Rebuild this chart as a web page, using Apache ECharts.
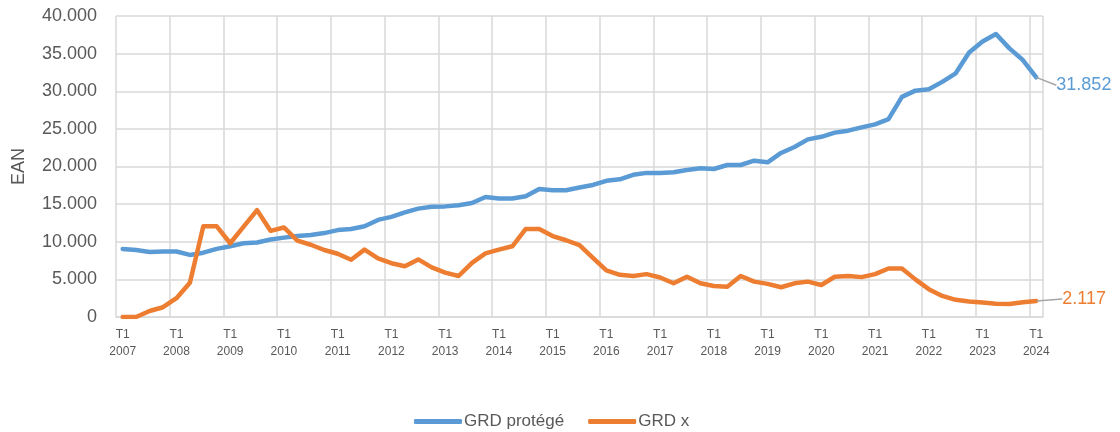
<!DOCTYPE html>
<html>
<head>
<meta charset="utf-8">
<title>GRD</title>
<script src="https://cdn.jsdelivr.net/npm/echarts@6/dist/echarts.min.js"></script>
<style>
  html, body { margin: 0; padding: 0; background: #fff; }
  #chart { width: 1120px; height: 432px; }
</style>
</head>
<body>
<div id="chart"></div>
<script>
// trimestres T1 2007 .. T1 2024
var years = [2007, 2008, 2009, 2010, 2011, 2012, 2013, 2014, 2015, 2016, 2017, 2018, 2019, 2020, 2021, 2022, 2023, 2024];
var quarters = ['T1', 'T2', 'T3', 'T4'];

var grdProtege = [
  9050, 8900, 8650, 8700,
  8700, 8250, 8550, 9050,
  9400, 9800, 9900, 10300,
  10550, 10750, 10900, 11150,
  11550, 11700, 12050, 12900,
  13300, 13900, 14400, 14650,
  14700, 14850, 15150, 15950,
  15750, 15750, 16050, 17000,
  16850, 16850, 17200, 17550,
  18100, 18300, 18900, 19150,
  19150, 19230, 19540, 19760,
  19670, 20200, 20200, 20770,
  20560, 21800, 22600, 23600,
  23950, 24500, 24760, 25200,
  25600, 26300, 29250, 30080,
  30260, 31250, 32380, 35150,
  36600, 37600, 35700, 34150,
  31852
];

var grdX = [
  0, 0, 800, 1300,
  2500, 4550, 12050, 12050,
  9800, 12000, 14200, 11450,
  11900, 10150, 9600, 8900,
  8400, 7600, 8950, 7800,
  7150, 6750, 7650, 6600,
  5900, 5450, 7200, 8450,
  8950, 9400, 11700, 11700,
  10750, 10200, 9550, 7850,
  6200, 5600, 5450, 5700,
  5250, 4480, 5360, 4480,
  4120, 4030, 5450, 4700,
  4400, 3950, 4480, 4700,
  4250, 5350, 5450, 5300,
  5700, 6450, 6450, 5000,
  3700, 2800, 2280, 2050,
  1920, 1760, 1740, 1950,
  2117
];

var yTicks = [0, 5000, 10000, 15000, 20000, 25000, 30000, 35000, 40000];

var categories = [];
for (var y = 0; y < years.length; y++) {
  for (var q = 0; q < quarters.length; q++) {
    if (years[y] === 2024 && q > 0) break;
    categories.push(quarters[q] + ' ' + years[y]);
  }
}

var FONT = '"Liberation Sans", Arial, sans-serif';
var GRID_COL = '#d9d9d9';
var TXT = '#595959';

function fmt(v) {
  return String(v).replace(/\B(?=(\d{3})+(?!\d))/g, '.');
}

// seul le dernier point porte une étiquette
function withEndLabel(values, color) {
  return values.map(function (v, i) {
    if (i !== values.length - 1) return v;
    return {
      value: v,
      label: {
        show: true,
        position: 'right',
        distance: 5,
        color: color,
        fontFamily: FONT,
        fontSize: 18,
        formatter: function (p) { return fmt(p.value); }
      }
    };
  });
}

function lineSeries(name, values, color, dx, dy) {
  return {
    name: name,
    type: 'line',
    data: withEndLabel(values, color),
    color: color,
    showSymbol: true,
    showAllSymbol: true,
    symbolSize: 0.1,
    lineStyle: { width: 4.5, color: color, join: 'round', cap: 'round' },
    labelLayout: { dx: dx, dy: dy },
    labelLine: { show: true, lineStyle: { color: '#a6a6a6', width: 1.5 } },
    emphasis: { disabled: true }
  };
}

var chart = echarts.init(document.getElementById('chart'));
var option = {
  animation: false,
  backgroundColor: '#fff',
  grid: { left: 116, right: 77, top: 16, bottom: 115 },
  legend: {
    top: 408,
    left: 409,
    icon: 'roundRect',
    itemWidth: 48,
    itemHeight: 5,
    itemGap: 24,
    textStyle: { color: TXT, fontFamily: FONT, fontSize: 17, padding: [0, 0, 0, -3] },
    data: ['GRD protégé', 'GRD x']
  },
  xAxis: {
    type: 'category',
    data: categories,
    boundaryGap: true,
    axisLine: { show: true, lineStyle: { color: GRID_COL, width: 1.5 } },
    axisTick: { show: false, interval: 3 },
    splitLine: { show: true, interval: 3, lineStyle: { color: GRID_COL, width: 1.5 } },
    axisLabel: {
      interval: 3,
      margin: 9,
      color: TXT,
      fontFamily: FONT,
      fontSize: 12,
      lineHeight: 17,
      formatter: function (v) { return v.replace(' ', '\n'); }
    }
  },
  yAxis: {
    type: 'value',
    min: yTicks[0],
    max: yTicks[yTicks.length - 1],
    interval: 5000,
    name: 'EAN',
    nameLocation: 'middle',
    nameGap: 88,
    nameTextStyle: { color: TXT, fontFamily: FONT, fontSize: 18 },
    axisLine: { show: false },
    axisTick: { show: false },
    splitLine: { lineStyle: { color: GRID_COL, width: 1.5 } },
    axisLabel: {
      margin: 19,
      color: TXT,
      fontFamily: FONT,
      fontSize: 18,
      formatter: function (v) { return fmt(v); }
    }
  },
  series: [
    lineSeries('GRD protégé', grdProtege, '#5b9bd5', 14, 8),
    lineSeries('GRD x', grdX, '#ed7d31', 20, -2)
  ]
};
chart.setOption(option);
</script>
</body>
</html>
